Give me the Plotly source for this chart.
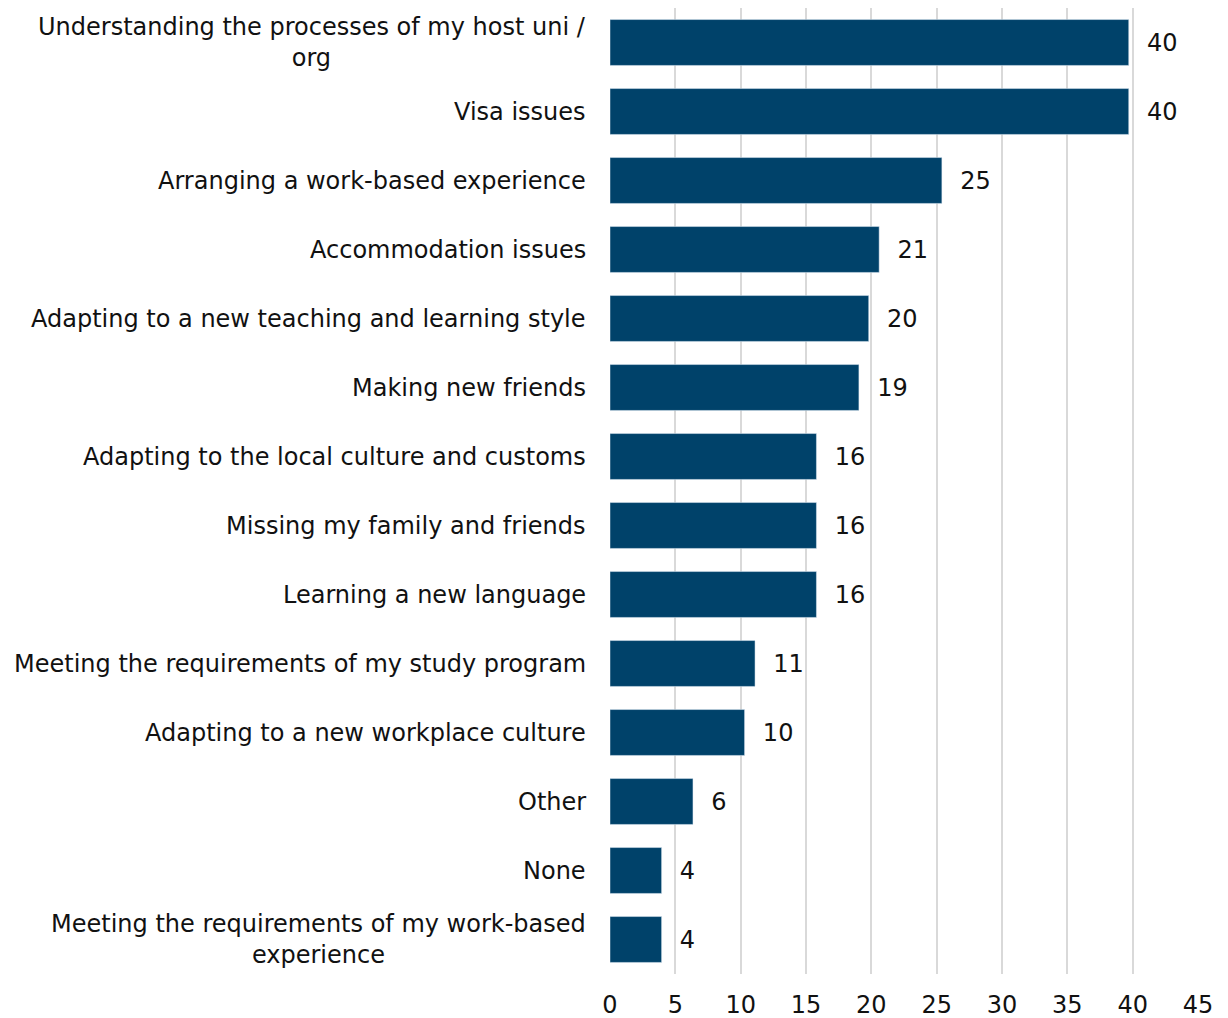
import plotly.graph_objects as go

categories = [
    "Understanding the processes of my host uni /<br>org",
    "Visa issues",
    "Arranging a work-based experience",
    "Accommodation issues",
    "Adapting to a new teaching and learning style",
    "Making new friends",
    "Adapting to the local culture and customs",
    "Missing my family and friends",
    "Learning a new language",
    "Meeting the requirements of my study program",
    "Adapting to a new workplace culture",
    "Other",
    "None",
    "Meeting the requirements of my work-based<br>experience",
]
values = [39.7, 39.7, 25.4, 20.6, 19.8, 19.05, 15.8, 15.8, 15.8, 11.1, 10.3, 6.35, 3.95, 3.95]
labels = ["40", "40", "25", "21", "20", "19", "16", "16", "16", "11", "10", "6", "4", "4"]

font = "DejaVu Sans, Verdana, sans-serif"
fsize = 24

fig = go.Figure()

fig.add_trace(go.Bar(
    y=categories,
    x=values,
    orientation="h",
    marker_color="#00426A",
    text=["\u00a0\u00a0" + t for t in labels],
    textposition="outside",
    textfont=dict(size=fsize, color="#111111", family=font),
    cliponaxis=False,
))

# category labels as annotations so wrapped lines are centred
for c in categories:
    fig.add_annotation(
        x=0, y=c, xref="x", yref="y",
        text=c, showarrow=False,
        xanchor="right", align="center", xshift=-22,
        font=dict(size=fsize, color="#111111", family=font),
    )

# page body has an 8px margin, so the figure is sized to fit inside it
fig.update_layout(
    width=1220,
    height=1010,
    margin=dict(l=602, r=30, t=0, b=44),
    plot_bgcolor="white",
    paper_bgcolor="white",
    bargap=0.335,
    showlegend=False,
    font=dict(family=font, size=fsize, color="#111111"),
)
fig.update_xaxes(
    range=[0, 45], dtick=5, showgrid=True, gridcolor="#d9d9d9", gridwidth=1.5,
    zeroline=False, showline=False, ticks="", tickfont=dict(size=fsize),
    ticklabelstandoff=14,
)
fig.update_yaxes(autorange="reversed", showticklabels=False, showgrid=False, ticks="")

fig.write_html("out.html")
